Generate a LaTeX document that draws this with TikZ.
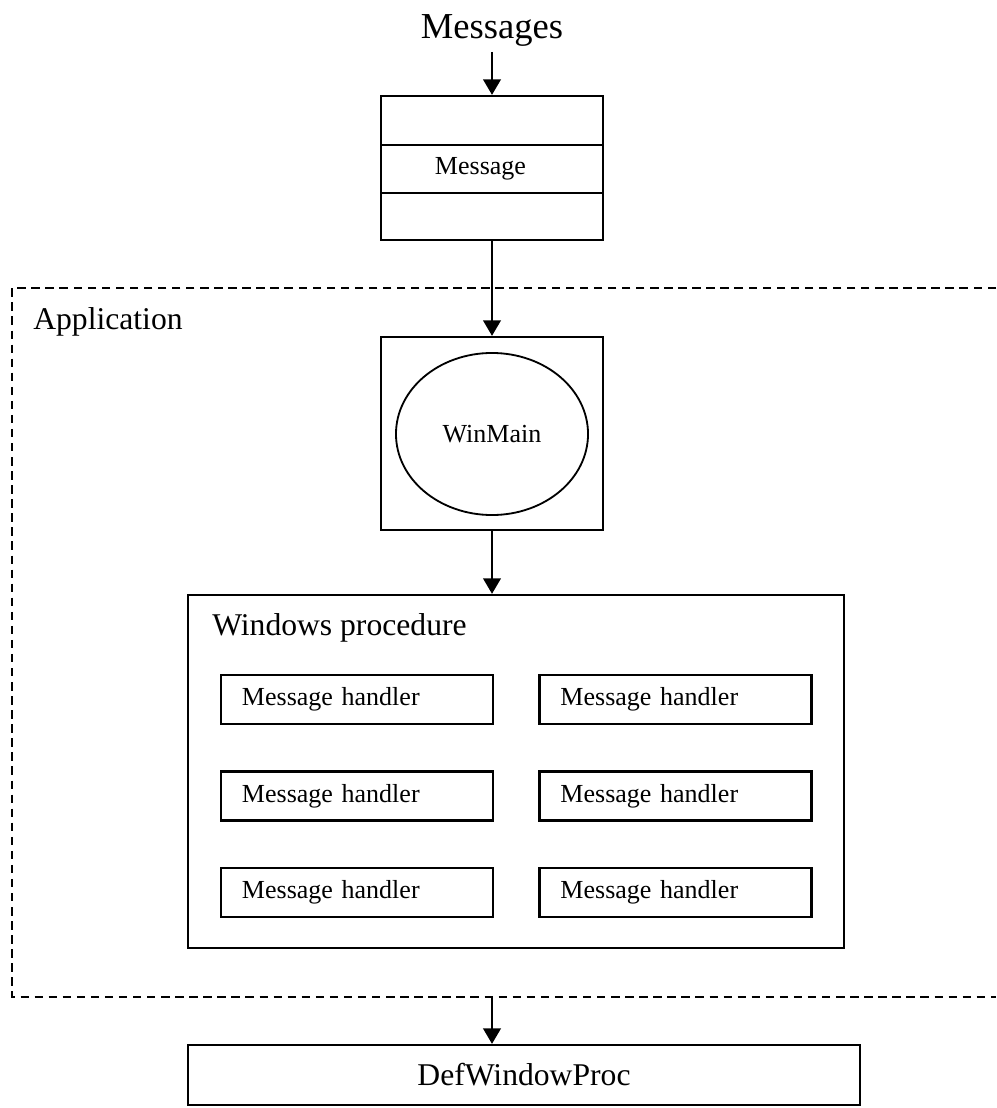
\documentclass[tikz,border=0pt]{standalone}
\usepackage{fontspec}
\setmainfont{Liberation Serif}
\usetikzlibrary{positioning, arrows.meta, shapes.geometric}

\tikzset{
  box/.style={draw, line width=1.6pt, inner sep=0pt},
  bigtext/.style={font=\fontsize{22.5}{26}\selectfont},
  smalltext/.style={font=\fontsize{18.5}{22}\selectfont},
  handler/.style={box, smalltext, minimum width=6.8cm, minimum height=1.225cm,
    text width=5.75cm, inner xsep=0.525cm, align=left},
  flow/.style={line width=1.5pt, -{Triangle[length=11pt, width=12.5pt]}},
}

\begin{document}
\begin{tikzpicture}[x=0.025cm, y=-0.025cm]
    \useasboundingbox (0,0) rectangle (996,1108);
    % Incoming messages and the queue
    \node[font=\fontsize{26}{30}\selectfont, anchor=base] (msgs) at (492,39) {Messages};
    \node[box, minimum width=5.55cm, minimum height=3.6cm] (queue) at (492,168) {};
    \node[box, smalltext, minimum height=1.2cm, text width=2.85cm, inner xsep=1.35cm, align=left] (slot) at (492,169) {Message};
    \draw[flow] (msgs) -- (queue);
    % Application frame
    \draw[line width=1.6pt, dash pattern=on 6pt off 4pt] (996,288) -- (12,288) -- (12,997) -- (996,997);
    \node[bigtext, anchor=base west, inner sep=0pt] (app) at (33,330) {Application};
    % WinMain
    \node[box, minimum width=5.55cm, minimum height=4.825cm] (winbox) at (492,433.5) {};
    \node[draw, line width=1.3pt, ellipse, smalltext, minimum width=4.8cm, minimum height=4.05cm] (winmain) at (492,434) {WinMain};
    \draw[flow] (queue) -- (winbox);
    % Windows procedure with its handlers
    \node[box, minimum width=16.4cm, minimum height=8.825cm] (proc) at (516,771.5) {};
    \node[bigtext, anchor=base west, inner sep=0pt] (proctitle) at (212,635) {Windows procedure};
    \foreach \row/\y in {1/699.5, 2/796, 3/892.5} {
        \node[handler] (hl\row) at (357,\y) {Message handler};
        \node[handler] (hr\row) at (675.5,\y) {Message handler};
    }
    \draw[flow] (winbox.south) -- (winbox.south |- proc.north);
    % Default processing
    \node[box, bigtext, minimum width=16.8cm, minimum height=1.5cm] (defproc) at (524,1075) {DefWindowProc};
    \coordinate (appout) at (492,997);
    \draw[flow] (appout) -- (appout |- defproc.north);
\end{tikzpicture}
\end{document}
